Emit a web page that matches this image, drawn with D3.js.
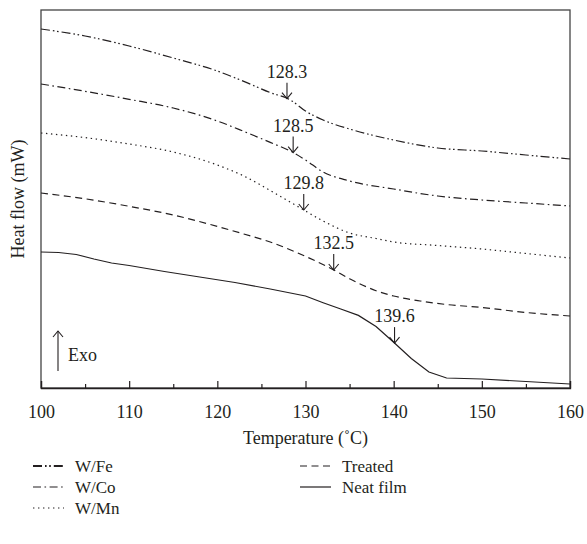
<!DOCTYPE html>
<html><head><meta charset="utf-8">
<script src="https://cdn.jsdelivr.net/npm/d3@7"></script>
<style>
body{margin:0;background:#fff;}
text{font-family:"Liberation Serif","DejaVu Serif",serif;fill:#231f20;}
</style></head>
<body><svg id="c" width="587" height="544"></svg>
<script>
// ---- data (heat flow in arbitrary units, offset curves) ----
const tempsFe = [100,105,110,115,120,123,126,128.3,130,132,135,140,145,150,155,160];
const valsFe  = [359,352,342,330,317,306.6,295.4,288,277,268,259,248,240,237,233,229];
const tempsCo = [100,105,110,115,120,123,126,128.5,130,132,135,140,145,150,155,160];
const valsCo  = [304,296.7,288.7,280,267,256.6,245.6,236,228,216,207,199,192,188,185,182];
const tempsMn = [100,105,110,115,120,123,126,129.8,132,135,138,140,145,150,155,160];
const valsMn  = [255,250.4,244,236,223,212,197.5,178,167,155,149.5,146,142.5,139,134.5,130];
const tempsTr = [100,105,110,115,120,123,126,129,133.2,135,138,140,143,146,150,155,160];
const valsTr  = [195,189.2,181.7,173,161.6,154,146,135.5,118,109.2,97.3,92,87,83.5,80.5,75.5,72];
const tempsNf = [100,102,104,106,108,110,114,118,122,126,130,132,134,136,138,140,142,144,146,150,155,160];
const valsNf  = [136,135.5,133.5,129,125,122.5,116.5,111,105.5,99,92,85.3,79,72.6,61.5,45.7,29.5,16,10,9,6.5,4];

const seriesNames = ["W/Fe","W/Co","W/Mn","Treated","Neat film"];
const peakLabels = ["128.3","128.5","129.8","132.5","139.6"];
const peakTemps  = [127.9,128.6,129.8,133.2,140.1];
const xTicks = [100,110,120,130,140,150,160];
const xMinorTicks = [105,115,125,135,145,155];

const series = [
  {name:seriesNames[0], t:tempsFe, v:valsFe, dash:"9,3,1.6,2.6,1.6,3", curve:d3.curveMonotoneX},
  {name:seriesNames[1], t:tempsCo, v:valsCo, dash:"8,3.5,1.6,3.5", curve:d3.curveMonotoneX},
  {name:seriesNames[2], t:tempsMn, v:valsMn, dash:"1.4,3.6", curve:d3.curveMonotoneX},
  {name:seriesNames[3], t:tempsTr, v:valsTr, dash:"7,4.5", curve:d3.curveMonotoneX},
  {name:seriesNames[4], t:tempsNf, v:valsNf, dash:null, curve:d3.curveLinear}
];

const svg = d3.select("#c");
const m = {l:41, t:10, r:17, b:156};
const W = 587 - m.l - m.r, H = 544 - m.t - m.b;
const g = svg.append("g").attr("transform",`translate(${m.l},${m.t})`);
const x = d3.scaleLinear().domain([100,160]).range([0,W]);
const y = d3.scaleLinear().domain([0,378]).range([H,0]);

const ink = "#231f20";
// frame
g.append("rect").attr("x",0).attr("y",0).attr("width",W).attr("height",H)
  .attr("fill","none").attr("stroke","#444").attr("stroke-width",1.3);

// x axis with inward ticks
const ax = g.append("g").attr("transform",`translate(0,${H})`);
ax.call(d3.axisBottom(x).tickValues(xTicks).tickSize(-7).tickPadding(17).tickFormat(d3.format("d")));
ax.append("g").call(d3.axisBottom(x).tickValues(xMinorTicks).tickSize(-4).tickFormat(""));
ax.selectAll(".domain").attr("stroke",ink).attr("stroke-width",1.3);
ax.selectAll(".tick line").attr("stroke",ink).attr("stroke-width",1.2);
ax.selectAll(".tick text").attr("font-size",18).attr("fill",ink)
  .attr("font-family","Liberation Serif, DejaVu Serif, serif");
ax.selectAll("g").selectAll(".domain").remove();

// lines
const line = (s)=>d3.line().curve(s.curve).x((d,i)=>x(s.t[i])).y((d,i)=>y(s.v[i]));
series.forEach(s=>{
  g.append("path").attr("d", line(s)(s.v)).attr("fill","none")
   .attr("stroke",ink).attr("stroke-width",1.2)
   .attr("stroke-dasharray", s.dash);
});

// peak arrows
function interp(t, ts, vs){
  for(let i=0;i<ts.length-1;i++){
    if(t>=ts[i] && t<=ts[i+1]){const f=(t-ts[i])/(ts[i+1]-ts[i]);return vs[i]+f*(vs[i+1]-vs[i]);}
  }
  return vs[vs.length-1];
}
series.forEach((s,i)=>{
  const px = x(peakTemps[i]), py = y(interp(peakTemps[i], s.t, s.v));
  const a = g.append("g");
  a.append("line").attr("x1",px).attr("x2",px).attr("y1",py-16).attr("y2",py).attr("stroke",ink).attr("stroke-width",1.1);
  a.append("path").attr("d",`M${px-5},${py-6}L${px},${py}L${px+5},${py-6}`).attr("fill","none").attr("stroke",ink).attr("stroke-width",1.1);
  a.append("text").attr("x",px).attr("y",py-21).attr("text-anchor","middle").attr("font-size",18).text(peakLabels[i]);
});

// Exo arrow
const ex = 17, ey1 = H-17, ey0 = H-57;
g.append("line").attr("x1",ex).attr("x2",ex).attr("y1",ey0).attr("y2",ey1).attr("stroke",ink).attr("stroke-width",1.1);
g.append("path").attr("d",`M${ex-5},${ey0+6}L${ex},${ey0}L${ex+5},${ey0+6}`).attr("fill","none").attr("stroke",ink).attr("stroke-width",1.1);
g.append("text").attr("x",ex+10).attr("y",ey1-10).attr("font-size",18).text("Exo");

// axis titles
svg.append("text").attr("x", m.l + W/2).attr("y", 444).attr("text-anchor","middle").attr("font-size",18).text("Temperature (˚C)");
svg.append("text").attr("transform",`translate(24,${m.t+H/2}) rotate(-90)`).attr("text-anchor","middle").attr("font-size",18).text("Heat flow (mW)");

// legend
const legPos = [[33,466],[33,487],[33,508],[300,466],[300,487]];
series.forEach((s,i)=>{
  const [lx,ly] = legPos[i];
  g.append("line"); // placeholder no-op
  svg.append("line").attr("x1",lx).attr("x2",lx+31).attr("y1",ly).attr("y2",ly)
    .attr("stroke",ink).attr("stroke-width", i===0?1.8:1.2).attr("stroke-dasharray", s.dash);
  svg.append("text").attr("x",lx+42).attr("y",ly+6).attr("font-size",17).text(s.name);
});
</script></body></html>
